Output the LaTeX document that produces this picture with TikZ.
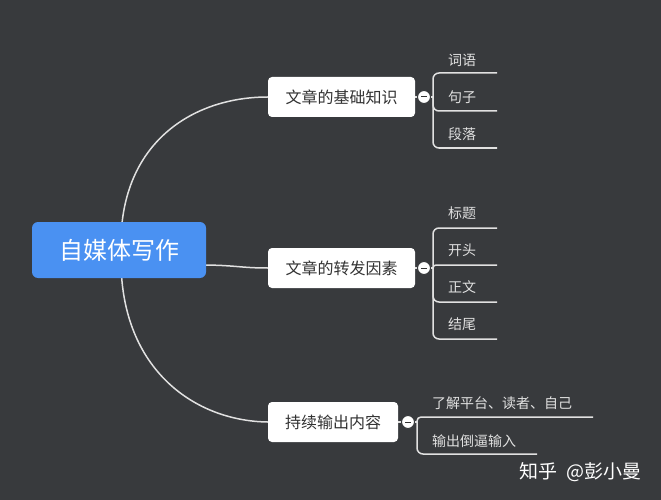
\documentclass[tikz,border=0pt]{standalone}
\usepackage{fontspec}
\newfontfamily\cjk{Noto Sans CJK SC}
\definecolor{bg}{RGB}{56,58,61}
\definecolor{rootblue}{RGB}{74,145,242}
\definecolor{linec}{RGB}{225,225,225}
\definecolor{darktext}{RGB}{50,50,50}
\begin{document}
\begin{tikzpicture}[x=1pt,y=-1pt,
  conn/.style={draw=linec,line width=1.5pt},
  rootbox/.style={fill=rootblue,rounded corners=6pt,minimum width=174pt,minimum height=56pt,text=white,font=\cjk\fontsize{24}{28}\selectfont,inner sep=0pt},
  topicbox/.style={fill=white,rounded corners=4pt,minimum height=40pt,text=darktext,font=\cjk\fontsize{16}{19}\selectfont,inner sep=0pt},
  fold/.style={circle,fill=white,draw=bg,line width=1pt,minimum size=13pt,inner sep=0pt},
  leaf/.style={text=linec,font=\cjk\fontsize{14}{17}\selectfont,inner sep=0pt,anchor=west},
  wmark/.style={text=white,font=\cjk\fontsize{19}{23}\selectfont,inner sep=0pt}
]
\useasboundingbox (0,0) rectangle (661,500);
\fill[bg] (0,0) rectangle (661,500);

% topics
\node[topicbox,minimum width=147pt] (t1) at (341.5,97) {文章的基础知识};
\node[topicbox,minimum width=147pt] (t2) at (341.5,268) {文章的转发因素};
\node[topicbox,minimum width=130pt] (t3) at (333,422) {持续输出内容};

% connectors from root
\coordinate (rt) at (121,238);
\coordinate (rb) at (121,262);
\coordinate (rm) at (200,265);
\draw[conn] (rt) .. controls (124,140) and (195,97) .. (t1.west);
\draw[conn] (rb) .. controls (122,370) and (195,421) .. (t3.west);
\draw[conn] (rm) .. controls (235,265) and (240,268) .. (t2.west);

\node[rootbox] (root) at (119,250) {自媒体写作};

% branch 1
\coordinate (j1) at (433,97);
\coordinate (e11) at (497,73);
\coordinate (e12) at (497,111);
\coordinate (e13) at (497,148);
\draw[conn] (t1.east) -- (j1);
\draw[conn,rounded corners=6pt] (j1) |- (e11);
\draw[conn,rounded corners=6pt] (j1) |- (e12);
\draw[conn,rounded corners=6pt] (j1) |- (e13);
\node[fold] (f1) at (424,97) {};
\draw[darktext,line width=1pt] ([xshift=-3pt]f1.center) -- ([xshift=3pt]f1.center);
\node[leaf] (l11) at (448,60) {词语};
\node[leaf] (l12) at (448,97) {句子};
\node[leaf] (l13) at (448,134) {段落};

% branch 2
\coordinate (j2) at (433,268);
\coordinate (e21) at (497,228);
\coordinate (e22) at (497,265);
\coordinate (e23) at (497,302);
\coordinate (e24) at (497,339);
\draw[conn] (t2.east) -- (j2);
\draw[conn,rounded corners=6pt] (j2) |- (e21);
\draw[conn,rounded corners=3pt] (j2) |- (e22);
\draw[conn,rounded corners=6pt] (j2) |- (e23);
\draw[conn,rounded corners=6pt] (j2) |- (e24);
\node[fold] (f2) at (424,268) {};
\draw[darktext,line width=1pt] ([xshift=-3pt]f2.center) -- ([xshift=3pt]f2.center);
\node[leaf] (l21) at (448,213) {标题};
\node[leaf] (l22) at (448,250) {开头};
\node[leaf] (l23) at (448,287) {正文};
\node[leaf] (l24) at (448,324) {结尾};

% branch 3
\coordinate (j3) at (417,422);
\coordinate (e31) at (593,417);
\coordinate (e32) at (537,454);
\draw[conn] (t3.east) -- (j3);
\draw[conn,rounded corners=4pt] (j3) |- (e31);
\draw[conn,rounded corners=6pt] (j3) |- (e32);
\node[fold] (f3) at (408,422) {};
\draw[darktext,line width=1pt] ([xshift=-3pt]f3.center) -- ([xshift=3pt]f3.center);
\node[leaf] (l31) at (432,403) {了解平台、读者、自己};
\node[leaf] (l32) at (432,441) {输出倒逼输入};

% watermark
\node[wmark,anchor=west] (wm) at (519,472) {知乎\hspace{9pt}@彭小曼};
\end{tikzpicture}
\end{document}
